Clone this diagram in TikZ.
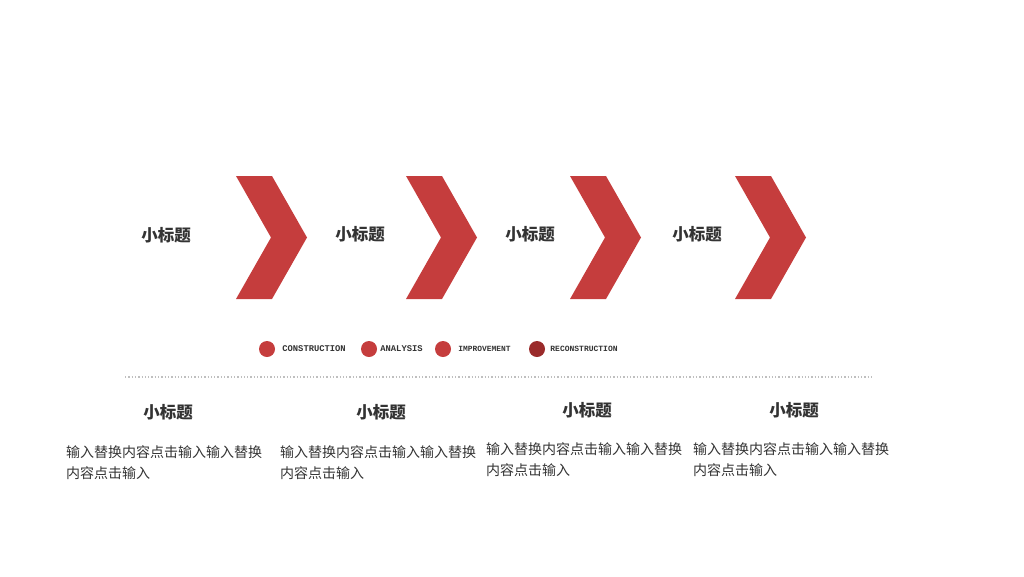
\documentclass[tikz,border=0pt]{standalone}
\usepackage{fontspec}
\setmainfont{Liberation Sans}
\newfontfamily\cjk{Noto Sans CJK SC}
\newfontfamily\legendfont{Liberation Mono}
\usetikzlibrary{positioning}
\definecolor{chevred}{HTML}{C53D3D}
\definecolor{darkred}{HTML}{9A2B2B}
\definecolor{textgray}{HTML}{333333}
\tikzset{
	title/.style={font=\cjk\bfseries\fontsize{16.5}{19}\selectfont, text=textgray, inner sep=0pt},
	body/.style={font=\cjk\fontsize{14}{21}\selectfont, text=textgray, align=left, anchor=west, inner sep=0pt},
	legend/.style={font=\legendfont\bfseries\fontsize{#1}{9}\selectfont, text=textgray, anchor=west, inner sep=0pt},
	legend/.default=8.8,
	dot/.style={circle, fill=chevred, minimum size=16pt, inner sep=0pt}
}
\begin{document}
\begin{tikzpicture}[x=1pt,y=-1pt]
		\useasboundingbox (0,0) rectangle (1024,576);
		\foreach \x in {236,406,570,735}
			\fill[chevred] (\x,176)--(\x+36,176)--(\x+71,237.5)--(\x+36,299)--(\x,299)--(\x+35,237.5)--cycle;
		\node[title] (top1) at (166,235) {小标题};
		\node[title] (top2) at (360,234) {小标题};
		\node[title] (top3) at (530,234) {小标题};
		\node[title] (top4) at (697,234) {小标题};
		\node[dot] (d1) at (267,349) {};
		\node[legend, right=7pt of d1] (l1) {CONSTRUCTION};
		\node[dot] (d2) at (369,349) {};
		\node[legend, right=3pt of d2] (l2) {ANALYSIS};
		\node[dot] (d3) at (443,349) {};
		\node[legend=7.9, right=7pt of d3] (l3) {IMPROVEMENT};
		\node[dot, fill=darkred] (d4) at (537,349) {};
		\node[legend=8, right=5pt of d4] (l4) {RECONSTRUCTION};
		\draw[gray!50, line width=1.3pt, dotted] (125,377)--(872,377);
		\node[title] (sub1) at (168,412) {小标题};
		\node[title] (sub2) at (381,412) {小标题};
		\node[title] (sub3) at (587,410) {小标题};
		\node[title] (sub4) at (794,410) {小标题};
		\node[body] (txt1) at (66,462.5) {输入替换内容点击输入输入替换\\内容点击输入};
		\node[body] (txt2) at (280,462.5) {输入替换内容点击输入输入替换\\内容点击输入};
		\node[body] (txt3) at (486,459.5) {输入替换内容点击输入输入替换\\内容点击输入};
		\node[body] (txt4) at (693,459.5) {输入替换内容点击输入输入替换\\内容点击输入};
	\end{tikzpicture}
\end{document}
